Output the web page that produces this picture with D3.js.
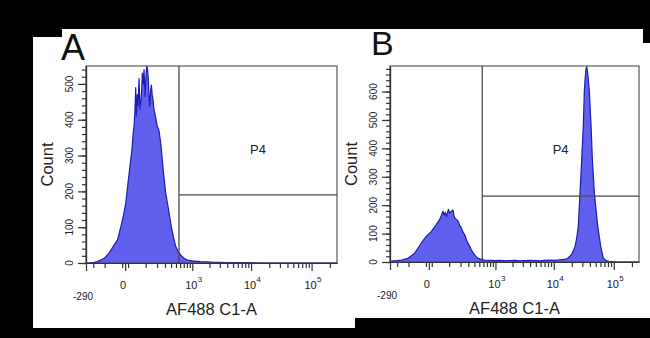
<!DOCTYPE html>
<html>
<head>
<meta charset="utf-8">
<script src="https://cdn.jsdelivr.net/npm/d3@7"></script>
<style>
  html, body { margin: 0; padding: 0; background: #000; }
  svg { display: block; }
  text { font-family: "Liberation Sans", Arial, sans-serif; fill: #222; }
</style>
</head>
<body>
<svg id="fig" width="650" height="338"></svg>
<script>
// ---- labels ----
const panelLabels = ["A", "B"];
const xTitle = "AF488 C1-A";
const yTitle = "Count";
const gateName = "P4";

// ---- x axis (biexponential display) ----
const xMin = -290, xMax = 262144;
const decadeTicks = [1e3, 1e4, 1e5];
const decadeExponents = ["3", "4", "5"];
const majorTicks = [-290, 0, 1e3, 1e4, 1e5];
const minorTicks = [-200, -100, -10, 10,
  100, 200, 300, 400, 500, 600, 700, 800, 900,
  2000, 3000, 4000, 5000, 6000, 7000, 8000, 9000,
  20000, 30000, 40000, 50000, 60000, 70000, 80000, 90000,
  200000];

// ---- gate P4 ----
const gateThreshold = 570;
const gateCountA = 190;
const gateCountB = 232;

// ---- y axis ranges ----
const yMaxA = 550;
const yMaxB = 690;

// ---- histogram A: intensity / count ----
const aIntensity = [-290, -250, -191, -160, -129, -100, -72, -50, -29, -15, -5, 2, 10, 20, 24, 27, 30, 34, 38, 42, 45, 50, 54, 59, 64, 69, 74, 78, 84, 89, 96, 102, 108, 114, 120, 125, 131, 138, 145, 152, 160, 168, 176, 190, 203, 222, 245, 263, 285, 311, 355, 405, 450, 494, 550, 615, 700, 814, 1000, 1369, 1800, 2500, 3026, 4000, 6545, 10000, 14075, 262144];
const aCount     = [0, 0, 2, 4, 8, 14, 27, 45, 64, 101, 135, 167, 225, 288, 310, 334, 360, 381, 420, 490, 410, 470, 440, 515, 430, 450, 480, 530, 500, 540, 465, 520, 550, 540, 511, 470, 437, 480, 497, 470, 455, 430, 420, 400, 381, 370, 330, 288, 240, 195, 150, 101, 70, 46, 32, 22, 14, 8, 6, 4, 3, 2, 2, 1, 1, 1, 0, 0];

// ---- histogram B: intensity / count ----
const bIntensity = [-290, -249, -200, -158, -103, -61, -28, -9, 9, 28, 44, 61, 68, 75, 81, 87, 95, 104, 115, 129, 137, 144, 160, 175, 190, 209, 230, 250, 270, 295, 320, 346, 375, 406, 440, 472, 550, 635, 797, 1000, 1208, 1500, 1810, 2200, 2691, 3300, 3982, 4800, 5880, 7000, 8655, 10500, 12724, 15420, 17000, 18683, 20000, 21217, 22650, 24183, 25713, 27438, 29291, 31135, 32351, 33500, 34500, 35479, 37000, 39177, 41795, 43945, 47430, 54026, 60631, 66946, 76245, 90000, 110000, 262144];
const bCount     = [0, 4, 5, 7, 13, 31, 67, 90, 108, 132, 150, 179, 165, 175, 160, 170, 185, 172, 178, 183, 165, 155, 150, 144, 130, 120, 105, 96, 80, 67, 55, 43, 33, 25, 18, 13, 9, 7, 6, 5, 6, 4, 5, 6, 4, 5, 6, 5, 4, 6, 7, 6, 8, 9, 13, 20, 28, 40, 55, 85, 126, 245, 364, 483, 602, 650, 680, 688, 660, 602, 483, 364, 245, 126, 55, 13, 4, 1, 0, 0];

const fillColor = "#6060ee";
const edgeColor = "#1c1cb0";
const axisColor = "#333";
const frameColor = "#4a4a4a";

const svg = d3.select("#fig");

// black backdrop with two white cards
svg.append("rect").attr("width", 650).attr("height", 338).attr("fill", "#000");
svg.append("rect").attr("x", 33).attr("y", 29).attr("width", 322).attr("height", 299).attr("fill", "#fff");
svg.append("rect").attr("x", 355).attr("y", 29).attr("width", 295).attr("height", 289).attr("fill", "#fff");
svg.append("rect").attr("x", 33).attr("y", 29).attr("width", 29).attr("height", 8).attr("fill", "#000");
svg.append("rect").attr("x", 643).attr("y", 29).attr("width", 7).attr("height", 14).attr("fill", "#000");

function drawPanel(cfg) {
  const { id, left, right, top, bottom, yMax, intensity, count, gateCount, tag, tagX, tagY, tagSize } = cfg;
  const g = svg.append("g");

  const x = d3.scaleSymlog().constant(85).domain([xMin, xMax]).range([left, right]);
  const y = d3.scaleLinear().domain([0, yMax]).range([bottom, top]);
  const pts = intensity.map((v, i) => [v, count[i]]);

  g.append("clipPath").attr("id", "clip" + id)
    .append("rect").attr("x", left).attr("y", top - 1).attr("width", right - left).attr("height", bottom - top + 1);

  // histogram fill and outline
  const area = d3.area().x(d => x(d[0])).y0(bottom).y1(d => y(d[1]));
  const line = d3.line().x(d => x(d[0])).y(d => y(d[1]));
  g.append("path").datum(pts).attr("d", area)
    .attr("fill", fillColor).attr("clip-path", `url(#clip${id})`);
  g.append("path").datum(pts).attr("d", line)
    .attr("fill", "none").attr("stroke", edgeColor).attr("stroke-width", 1.2)
    .attr("stroke-linejoin", "round").attr("clip-path", `url(#clip${id})`);

  // plot frame
  g.append("rect").attr("x", left).attr("y", top).attr("width", right - left).attr("height", bottom - top)
    .attr("fill", "none").attr("stroke", frameColor).attr("stroke-width", 1.1);

  // gate P4
  const gx = x(gateThreshold);
  g.append("line").attr("x1", gx).attr("x2", gx).attr("y1", top).attr("y2", bottom)
    .attr("stroke", frameColor).attr("stroke-width", 1.3);
  g.append("line").attr("x1", gx).attr("x2", right).attr("y1", y(gateCount)).attr("y2", y(gateCount))
    .attr("stroke", frameColor).attr("stroke-width", 1.3);
  g.append("text").attr("x", (gx + right) / 2).attr("y", 154)
    .attr("text-anchor", "middle").attr("font-size", 13).text(gateName);

  // y axis: minor and major ticks
  const styleAxis = sel => {
    sel.selectAll("path").attr("stroke", axisColor).attr("stroke-width", 1.2);
    sel.selectAll("line").attr("stroke", axisColor).attr("stroke-width", 1.2);
  };
  g.append("g").attr("transform", `translate(${left},0)`)
    .call(d3.axisLeft(y).tickValues(d3.range(0, yMax + 1, 20)).tickSize(4).tickSizeOuter(0).tickFormat(""))
    .call(styleAxis);
  g.append("g").attr("transform", `translate(${left},0)`)
    .call(d3.axisLeft(y).tickValues(d3.range(0, yMax + 1, 100)).tickSize(8).tickSizeOuter(0).tickFormat(""))
    .call(styleAxis);
  d3.range(0, yMax + 1, 100).forEach(v => {
    g.append("text")
      .attr("transform", `translate(${left - 13},${y(v)}) rotate(-90)`)
      .attr("text-anchor", "middle").attr("font-size", 10).text(v);
  });
  g.append("text")
    .attr("transform", `translate(${left - 33},${(top + bottom) / 2}) rotate(-90)`)
    .attr("text-anchor", "middle").attr("font-size", 16.5).text(yTitle);

  // x axis: minor and major ticks
  g.append("g").attr("transform", `translate(0,${bottom})`)
    .call(d3.axisBottom(x).tickValues(minorTicks).tickSize(5).tickSizeOuter(0).tickFormat(""))
    .call(styleAxis);
  g.append("g").attr("transform", `translate(0,${bottom})`)
    .call(d3.axisBottom(x).tickValues(majorTicks).tickSize(8).tickSizeOuter(0).tickFormat(""))
    .call(styleAxis);

  g.append("text").attr("x", x(xMin) - 3).attr("y", bottom + 37)
    .attr("text-anchor", "middle").attr("font-size", 10).text(String(xMin));
  g.append("text").attr("x", x(0) - 2).attr("y", bottom + 26)
    .attr("text-anchor", "middle").attr("font-size", 11).text("0");
  decadeTicks.forEach((v, i) => {
    const tx = x(v);
    g.append("text").attr("x", tx - 1).attr("y", bottom + 26)
      .attr("text-anchor", "middle").attr("font-size", 11).text("10");
    g.append("text").attr("x", tx + 5.5).attr("y", bottom + 19)
      .attr("text-anchor", "start").attr("font-size", 8).text(decadeExponents[i]);
  });
  g.append("text").attr("x", (left + right) / 2).attr("y", bottom + 52)
    .attr("text-anchor", "middle").attr("font-size", 16.5).text(xTitle);

  // panel letter
  g.append("text").attr("x", tagX).attr("y", tagY)
    .attr("font-size", tagSize).style("fill", "#111").text(tag);
}

drawPanel({ id: "a", left: 86, right: 337, top: 66, bottom: 263, yMax: yMaxA,
  intensity: aIntensity, count: aCount, gateCount: gateCountA,
  tag: panelLabels[0], tagX: 61, tagY: 60, tagSize: 36 });
drawPanel({ id: "b", left: 390, right: 639, top: 66, bottom: 262, yMax: yMaxB,
  intensity: bIntensity, count: bCount, gateCount: gateCountB,
  tag: panelLabels[1], tagX: 371, tagY: 55, tagSize: 34 });
</script>
</body>
</html>
